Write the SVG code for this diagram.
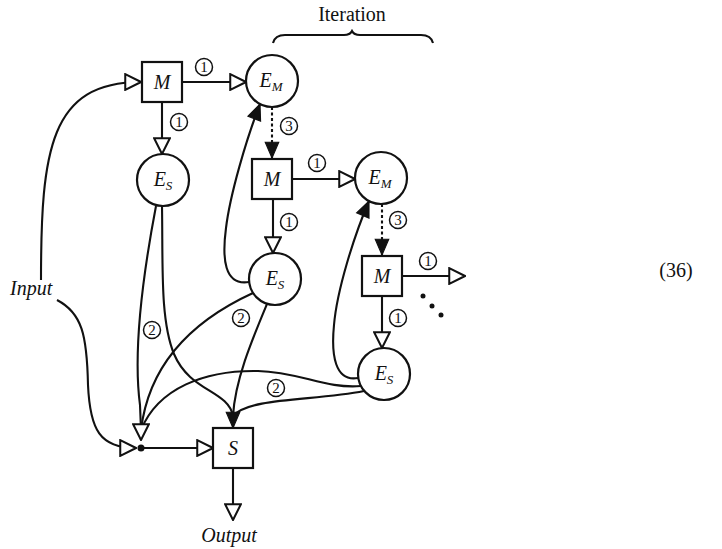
<svg xmlns="http://www.w3.org/2000/svg" width="722" height="549" viewBox="0 0 722 549">
  <style>
    .node { fill: #fff; stroke: #111; stroke-width: 2.2; }
    .edge { fill: none; stroke: #111; stroke-width: 2.1; }
    .dash { stroke-dasharray: 3 2.5; }
    .lbl { font-family: "Liberation Serif", "Times New Roman", serif; font-size: 20px; fill: #111; }
    .it { font-style: italic; }
    .sub { font-size: 13px; font-style: italic; }
  </style>
  <defs>
    <marker id="open" markerUnits="userSpaceOnUse" markerWidth="18" markerHeight="18" viewBox="-1 -1 16 16" refX="14" refY="7" orient="auto">
      <path d="M0,0 L14,7 L0,14 Z" fill="#fff" stroke="#111" stroke-width="1.8"/>
    </marker>
    <marker id="solid" markerUnits="userSpaceOnUse" markerWidth="18" markerHeight="18" viewBox="-1 -1 16 14" refX="14" refY="6" orient="auto">
      <path d="M0,0 L14,6 L0,12 Z" fill="#111" stroke="#111" stroke-width="1"/>
    </marker>
    <!-- circled step numbers -->
    <g id="n1"><circle r="8.5" fill="#fff" stroke="#111" stroke-width="1.5"/><text y="5.2" font-family="Liberation Serif, Times New Roman, serif" font-size="15" text-anchor="middle" fill="#111">1</text></g>
    <g id="n2"><circle r="8.5" fill="#fff" stroke="#111" stroke-width="1.5"/><text y="5.2" font-family="Liberation Serif, Times New Roman, serif" font-size="15" text-anchor="middle" fill="#111">2</text></g>
    <g id="n3"><circle r="8.5" fill="#fff" stroke="#111" stroke-width="1.5"/><text y="5.2" font-family="Liberation Serif, Times New Roman, serif" font-size="15" text-anchor="middle" fill="#111">3</text></g>
  </defs>

  <rect width="722" height="549" fill="#fff"/>

  <!-- connectors -->
  <g id="connectors">
    <!-- input feeds -->
    <path class="edge" d="M41,280 C41,150 50,82 141,82" marker-end="url(#open)"/>
    <path class="edge" d="M57,300 C82,313 87,335 88,385 C90,430 100,448 136,448" marker-end="url(#open)"/>
    <!-- first stage -->
    <path class="edge" d="M182,82 L246,82" marker-end="url(#open)"/>
    <path class="edge" d="M162,102 L162,154" marker-end="url(#open)"/>
    <path class="edge dash" d="M272,107 L272,158" marker-end="url(#solid)"/>
    <!-- second stage -->
    <path class="edge" d="M292,179 L355,179" marker-end="url(#open)"/>
    <path class="edge" d="M273,199 L273,253" marker-end="url(#open)"/>
    <path class="edge dash" d="M382,204 L382,255" marker-end="url(#solid)"/>
    <!-- third stage -->
    <path class="edge" d="M402,276 L465,276" marker-end="url(#open)"/>
    <path class="edge" d="M382,296 L382,348" marker-end="url(#open)"/>
    <!-- feedback to the E_M nodes -->
    <path class="edge" d="M249,282 C224,286 222,258 226,228 C230,195 246,140 260,104" marker-end="url(#solid)"/>
    <path class="edge" d="M358,378 C335,382 331,355 334,325 C337,290 354,236 369,201" marker-end="url(#solid)"/>
    <!-- lines into the junction -->
    <path class="edge" d="M156,206 C140,290 134,360 140,405 L141,430"/>
    <path class="edge" d="M253,293 C205,315 150,355 141,430"/>
    <path class="edge" d="M361,386 C325,389 300,372 258,371 C205,370 158,388 141,430"/>
    <path class="edge" d="M141,426 L141,440" marker-end="url(#open)"/>
    <!-- lines into S -->
    <path class="edge" d="M162,206 C163,265 160,320 174,354 C190,392 228,390 233,416"/>
    <path class="edge" d="M267,304 C252,340 235,380 233,416"/>
    <path class="edge" d="M364,391 C315,401 250,397 233,416"/>
    <path class="edge" d="M233,412 L233,428" marker-end="url(#solid)"/>
    <!-- junction to S, S to output -->
    <path class="edge" d="M141,448 L213,448" marker-end="url(#open)"/>
    <path class="edge" d="M233,468 L233,520" marker-end="url(#open)"/>
  </g>

  <!-- nodes -->
  <g id="M1"><rect class="node" x="142" y="62" width="40" height="40"/><text class="lbl it" x="162" y="89" text-anchor="middle">M</text></g>
  <g id="EM1"><circle class="node" cx="272" cy="81" r="26"/><text class="lbl it" x="271" y="87" text-anchor="middle">E<tspan class="sub" dy="4">M</tspan></text></g>
  <g id="ES1"><circle class="node" cx="163" cy="180" r="26"/><text class="lbl it" x="163" y="186" text-anchor="middle">E<tspan class="sub" dy="4">S</tspan></text></g>
  <g id="M2"><rect class="node" x="252" y="159" width="40" height="40"/><text class="lbl it" x="272" y="186" text-anchor="middle">M</text></g>
  <g id="EM2"><circle class="node" cx="381" cy="178" r="26"/><text class="lbl it" x="380" y="184" text-anchor="middle">E<tspan class="sub" dy="4">M</tspan></text></g>
  <g id="ES2"><circle class="node" cx="275" cy="279" r="26"/><text class="lbl it" x="275" y="285" text-anchor="middle">E<tspan class="sub" dy="4">S</tspan></text></g>
  <g id="M3"><rect class="node" x="362" y="256" width="40" height="40"/><text class="lbl it" x="382" y="283" text-anchor="middle">M</text></g>
  <g id="ES3"><circle class="node" cx="384" cy="374" r="26"/><text class="lbl it" x="384" y="380" text-anchor="middle">E<tspan class="sub" dy="4">S</tspan></text></g>
  <g id="S"><rect class="node" x="213" y="428" width="40" height="40"/><text class="lbl it" x="233" y="455" text-anchor="middle">S</text></g>
  <g id="junction"><circle cx="141" cy="448" r="3.5" fill="#111"/></g>

  <!-- edge step numbers -->
  <g id="steps">
    <use href="#n1" x="204" y="67"/>
    <use href="#n1" x="179" y="122"/>
    <use href="#n3" x="289" y="126"/>
    <use href="#n1" x="317" y="163"/>
    <use href="#n1" x="289" y="222"/>
    <use href="#n3" x="398" y="220"/>
    <use href="#n1" x="428" y="261"/>
    <use href="#n1" x="398" y="318"/>
    <use href="#n2" x="152" y="330"/>
    <use href="#n2" x="241" y="318"/>
    <use href="#n2" x="276" y="388"/>
  </g>

  <!-- continuation dots -->
  <g fill="#111">
    <circle cx="423" cy="296" r="2.5"/>
    <circle cx="432" cy="306" r="2.5"/>
    <circle cx="441" cy="315" r="2.5"/>
  </g>

  <!-- iteration brace -->
  <path class="edge" stroke-width="1.8" d="M273,43 Q275,35 285,35 L344,35 Q350,35 352,31 Q354,35 360,35 L421,35 Q431,35 433,43"/>

  <text class="lbl" x="352" y="21" text-anchor="middle">Iteration</text>
  <text class="lbl it" x="10" y="295">Input</text>
  <text class="lbl it" x="229" y="542" text-anchor="middle">Output</text>
  <text class="lbl" x="676" y="277" text-anchor="middle">(36)</text>
</svg>
